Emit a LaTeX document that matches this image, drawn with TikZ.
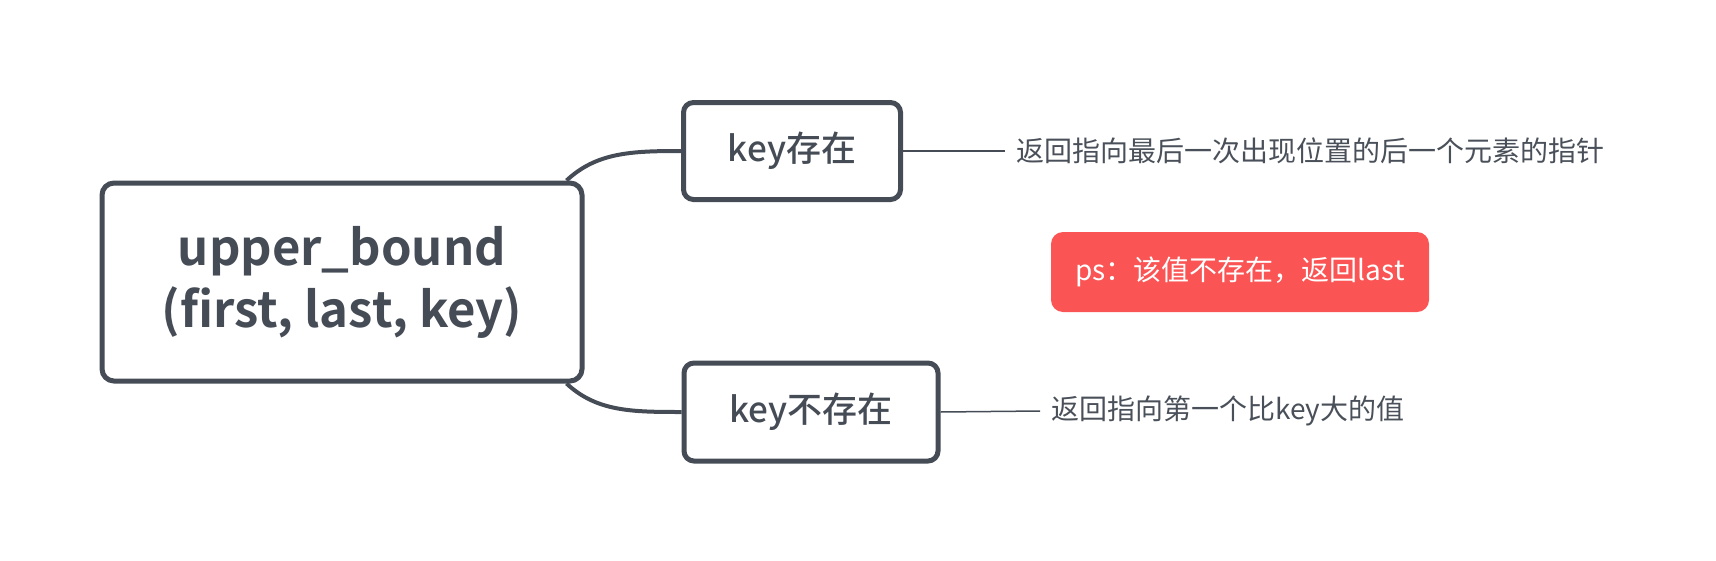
\documentclass[tikz,border=0pt]{standalone}
\usepackage{fontspec}
\setmainfont{Noto Sans CJK SC}
\newfontfamily\cjkbold{Noto Sans CJK SC Bold}
\newfontfamily\cjkmed{Noto Sans CJK SC Medium}
\usetikzlibrary{positioning}
\definecolor{slate}{RGB}{69,76,86}
\definecolor{tipred}{RGB}{250,84,84}
\definecolor{notegray}{RGB}{74,80,89}
\tikzstyle{topic} = [draw=slate, line width=5pt, rounded corners=12pt, fill=white, align=center, text=slate]
\tikzstyle{branch} = [draw=slate, line width=4pt]
\tikzstyle{leaf} = [draw=slate, line width=1.5pt]
\tikzstyle{note} = [anchor=west, inner xsep=11pt, text=notegray, font=\fontsize{28}{34}\selectfont]

\begin{document}
\begin{tikzpicture}[x=1pt, y=-1pt]
\useasboundingbox (0,0) rectangle (1716,560);

\node (bound) [topic, minimum width=480pt, minimum height=198pt,
  font=\cjkbold\fontsize{49}{62}\selectfont] at (342,282)
  {upper\_bound\\(first, last, key)};

\node (exists) [topic, rounded corners=10pt, minimum width=217pt, minimum height=97pt,
  font=\cjkmed\fontsize{35}{40}\selectfont] at (792,151) {key存在};
\node (absent) [topic, rounded corners=10pt, minimum width=254pt, minimum height=98pt,
  font=\cjkmed\fontsize{35}{40}\selectfont] at (811,412) {key不存在};

\draw[branch] ([xshift=-18pt]bound.north east) .. controls +(30,-28) and +(-50,0) .. (exists.west);
\draw[branch] ([xshift=-18pt]bound.south east) .. controls +(30,28) and +(-50,0) .. (absent.west);

\node (ans1) [note] at (1005,151) {返回指向最后一次出现位置的后一个元素的指针};
\node (ans2) [note] at (1040,411) {返回指向第一个比key大的值};
\draw[leaf] (exists.east) -- (ans1.west);
\draw[leaf] (absent.east) -- (ans2.west);

\node (ps) [fill=tipred, rounded corners=12pt, minimum width=378pt, minimum height=80pt, text=white,
  font=\fontsize{28}{34}\selectfont] at (1240,272) {ps：该值不存在，返回last};
\end{tikzpicture}
\end{document}
